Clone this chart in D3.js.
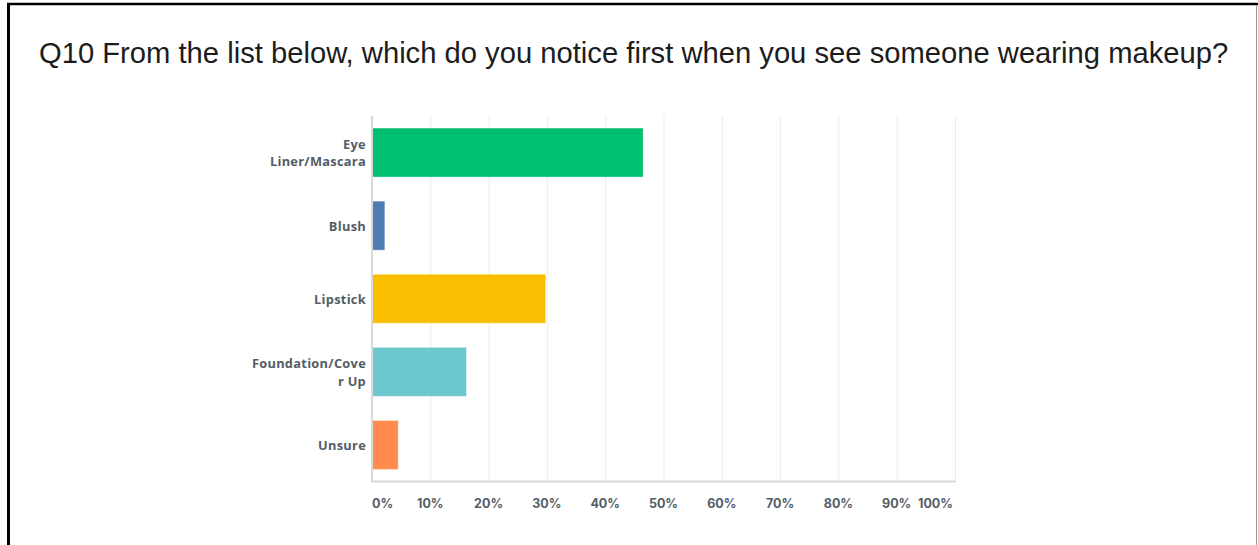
<!DOCTYPE html>
<html>
<head>
<meta charset="utf-8">
<script src="https://cdn.jsdelivr.net/npm/d3@7"></script>
<style>
  html, body { margin: 0; padding: 0; background: #fff; }
  svg { display: block; }
  .cat-label { font-family: "Open Sans", Inter, sans-serif; font-weight: 700; font-size: 12.8px; letter-spacing: 0.3px; fill: #535d66; }
  .tick-label { font-family: Inter, "Open Sans", sans-serif; font-weight: 700; font-size: 12.5px; fill: #535d66; }
  .title { font-family: "Liberation Sans", Arial, sans-serif; font-size: 29.2px; fill: #1c1c1c; }
</style>
</head>
<body>
<div id="chart"></div>
<script>
/* survey answers, share of respondents */
const categories = ['Eye Liner/Mascara', 'Blush', 'Lipstick', 'Foundation/Cover Up', 'Unsure'];
const categoryLines = [['Eye', 'Liner/Mascara'], ['Blush'], ['Lipstick'], ['Foundation/Cove', 'r Up'], ['Unsure']];
const values = [0.465, 0.022, 0.298, 0.162, 0.045];
const colors = ['#00bf6f', '#507cb6', '#f9be00', '#6bc8cd', '#ff8b4f'];
const tickValues = [0, 0.1, 0.2, 0.3, 0.4, 0.5, 0.6, 0.7, 0.8, 0.9, 1];
const titleText = 'Q10 From the list below, which do you notice first when you see someone wearing makeup?';

const width = 1258, height = 545;
const plot = { left: 372, right: 955, top: 116, bottom: 481.5 };

const svg = d3.select('#chart')
    .append('svg')
    .attr('width', width)
    .attr('height', height);

// frame of the screenshot
svg.append('line').attr('x1', 7).attr('x2', 1258).attr('y1', 4).attr('y2', 4)
    .style('stroke', '#000').style('stroke-width', 2.5);
svg.append('line').attr('x1', 8.5).attr('x2', 8.5).attr('y1', 3).attr('y2', height)
    .style('stroke', '#000').style('stroke-width', 3);
svg.append('line').attr('x1', 1256.5).attr('x2', 1256.5).attr('y1', 5).attr('y2', height)
    .style('stroke', '#999').style('stroke-width', 1);

svg.append('text')
    .attr('class', 'title')
    .attr('x', 39)
    .attr('y', 63)
    .text(titleText);

const xscale = d3.scaleLinear().domain([0, 1]).range([plot.left, plot.right]);
const yscale = d3.scaleBand()
    .domain(categories)
    .range([plot.top, plot.bottom])
    .paddingInner(0.33)
    .paddingOuter(0.165);

// gridlines
svg.append('g').attr('class', 'grid')
    .selectAll('line')
    .data(tickValues.slice(1))
    .enter()
    .append('line')
    .attr('x1', d => xscale(d) + 0.5)
    .attr('x2', d => xscale(d) + 0.5)
    .attr('y1', plot.top)
    .attr('y2', plot.bottom)
    .style('stroke', '#ececec')
    .style('stroke-width', 1);

// bars
svg.append('g').attr('class', 'bars')
    .selectAll('rect')
    .data(categories)
    .enter()
    .append('rect')
    .attr('x', xscale(0))
    .attr('y', d => yscale(d))
    .attr('width', (d, i) => xscale(values[i]) - xscale(0))
    .attr('height', yscale.bandwidth())
    .style('fill', (d, i) => colors[i])
    .style('stroke', 'rgba(255,255,255,0.35)')
    .style('stroke-width', 1);

// axis lines
svg.append('line')
    .attr('x1', plot.left).attr('x2', plot.right + 1)
    .attr('y1', plot.bottom).attr('y2', plot.bottom)
    .style('stroke', '#d9d9d9').style('stroke-width', 2);
svg.append('line')
    .attr('x1', plot.left).attr('x2', plot.left)
    .attr('y1', plot.top).attr('y2', plot.bottom + 1)
    .style('stroke', '#d9d9d9').style('stroke-width', 2);

// category labels
const labels = svg.append('g').attr('class', 'labels')
    .selectAll('text')
    .data(categories)
    .enter()
    .append('text')
    .attr('class', 'cat-label')
    .attr('text-anchor', 'end')
    .attr('x', plot.left - 6)
    .attr('y', d => yscale(d) + yscale.bandwidth() / 2);

labels.each(function (d, i) {
    const lines = categoryLines[i];
    const lh = 17.4;
    const start = -(lines.length - 1) * lh / 2;
    d3.select(this).selectAll('tspan')
        .data(lines)
        .enter()
        .append('tspan')
        .attr('x', plot.left - 6)
        .attr('dy', (l, j) => j === 0 ? start : lh)
        .attr('dominant-baseline', 'central')
        .text(l => l);
});

// tick labels
const fmt = d3.format('.0%');
svg.append('g').attr('class', 'ticks')
    .selectAll('text')
    .data(tickValues)
    .enter()
    .append('text')
    .attr('class', 'tick-label')
    .attr('x', (d, i) => i === 0 ? xscale(d) : (i === tickValues.length - 1 ? xscale(d) - 2 : xscale(d)))
    .attr('y', 503)
    .attr('dominant-baseline', 'central')
    .attr('text-anchor', (d, i) => i === 0 ? 'start' : (i === tickValues.length - 1 ? 'end' : 'middle'))
    .text(d => fmt(d));
</script>
</body>
</html>
